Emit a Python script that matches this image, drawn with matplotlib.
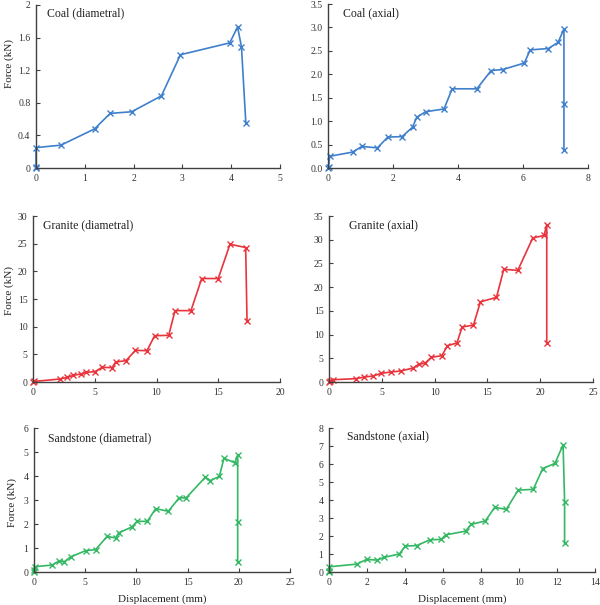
import matplotlib
matplotlib.use("Agg")
import matplotlib.pyplot as plt

plt.rcParams['font.family'] = ['Liberation Serif', 'DejaVu Serif']

# Coal (diametral)
coal_d_x = [0, 0, 0, 0.51, 1.20, 1.52, 1.96, 2.57, 2.96, 3.97, 4.13, 4.21, 4.30]
coal_d_y = [0, 0.01, 0.25, 0.28, 0.48, 0.67, 0.69, 0.885, 1.39, 1.535, 1.73, 1.49, 0.55]

# Coal (axial)
coal_a_x = [0, 0.02, 0.05, 0.76, 1.04, 1.52, 1.84, 2.28, 2.60, 2.73, 3.00, 3.57, 3.82,
            4.58, 5.02, 5.37, 6.04, 6.22, 6.78, 7.08, 7.26, 7.26, 7.26]
coal_a_y = [0, 0.02, 0.25, 0.34, 0.46, 0.43, 0.66, 0.67, 0.87, 1.08, 1.20, 1.26, 1.69,
            1.69, 2.08, 2.10, 2.24, 2.52, 2.55, 2.68, 2.97, 1.37, 0.39]

# Granite (diametral)
gran_d_x = [0, 0.05, 2.19, 2.78, 3.27, 3.86, 4.29, 5.02, 5.59, 6.40, 6.69, 7.53, 8.29,
            9.23, 9.85, 10.99, 11.50, 12.79, 13.66, 15.00, 15.95, 17.22, 17.33]
gran_d_y = [0, 0.1, 0.54, 0.84, 1.2, 1.45, 1.75, 1.87, 2.65, 2.59, 3.61, 3.86, 5.72,
            5.66, 8.37, 8.43, 12.9, 12.9, 18.7, 18.7, 24.9, 24.3, 11.0]

# Granite (axial)
gran_a_x = [0, 0.1, 0.41, 2.52, 3.34, 4.16, 4.95, 5.86, 6.78, 7.98, 8.48, 9.11, 9.68,
            10.69, 11.22, 12.11, 12.61, 13.68, 14.34, 15.86, 16.55, 17.88, 19.29,
            20.37, 20.62, 20.62]
gran_a_y = [0, 0.3, 0.49, 0.70, 1.05, 1.26, 1.83, 2.11, 2.32, 2.95, 3.72, 4.0, 5.2,
            5.55, 7.66, 8.22, 11.6, 12.0, 16.9, 17.85, 23.75, 23.54, 30.36,
            30.9, 33.2, 8.3]

# Sandstone (diametral)
sand_d_x = [0, 0, 0.05, 1.79, 2.44, 2.93, 3.58, 5.05, 6.02, 7.13, 7.98, 8.27, 9.57,
            10.06, 11.07, 11.88, 13.12, 14.19, 14.84, 16.73, 17.22, 18.10, 18.55,
            19.60, 19.89, 19.89, 19.89]
sand_d_y = [0, 0.1, 0.22, 0.29, 0.46, 0.42, 0.63, 0.89, 0.93, 1.48, 1.42, 1.63, 1.88,
            2.11, 2.11, 2.64, 2.53, 3.10, 3.08, 3.95, 3.81, 3.98, 4.74,
            4.55, 4.87, 2.09, 0.42]

# Sandstone (axial)
sand_a_x = [0, 0, 0.02, 1.47, 1.98, 2.54, 2.88, 3.70, 4.02, 4.63, 5.30, 5.91, 6.14,
            7.19, 7.47, 8.23, 8.72, 9.33, 9.96, 10.75, 11.25, 11.89, 12.32, 12.40, 12.40]
sand_a_y = [0, 0.05, 0.29, 0.44, 0.70, 0.66, 0.81, 1.0, 1.44, 1.47, 1.79, 1.81, 2.06,
            2.27, 2.64, 2.84, 3.59, 3.48, 4.55, 4.59, 5.75, 6.03, 7.06, 3.91, 1.59]

titles = ["Coal (diametral)", "Coal (axial)", "Granite (diametral)", "Granite (axial)",
          "Sandstone (diametral)", "Sandstone (axial)"]
xticks = [[0, 1, 2, 3, 4, 5], [0, 2, 4, 6, 8], [0, 5, 10, 15, 20], [0, 5, 10, 15, 20, 25],
          [0, 5, 10, 15, 20, 25], [0, 2, 4, 6, 8, 10, 12, 14]]
yticks = [[0, 0.4, 0.8, 1.2, 1.6, 2], [0, 0.5, 1, 1.5, 2, 2.5, 3, 3.5],
          [0, 5, 10, 15, 20, 25, 30], [0, 5, 10, 15, 20, 25, 30, 35],
          [0, 1, 2, 3, 4, 5, 6], [0, 1, 2, 3, 4, 5, 6, 7, 8]]
ytick_labels = [["0", "0.4", "0.8", "1.2", "1.6", "2"], None, None, None, None, None]

data = [(coal_d_x, coal_d_y), (coal_a_x, coal_a_y), (gran_d_x, gran_d_y),
        (gran_a_x, gran_a_y), (sand_d_x, sand_d_y), (sand_a_x, sand_a_y)]

colors = ["#3f7fcb", "#3f7fcb", "#e8343c", "#e8343c", "#34b864", "#34b864"]

W, H = 600, 605
# axes boxes in pixels: left, right, top, bottom
boxes = [(36, 280, 5, 168), (328, 588, 4, 168),
         (33, 280, 216, 382), (329, 593, 216, 382),
         (34, 290, 428, 572), (329, 595, 428, 572)]
title_pos = [(0.045, 0.95), (0.058, 0.945), (0.04, 0.946), (0.076, 0.946),
             (0.055, 0.93), (0.068, 0.944)]
ylabel_pos = [(14, 0.644), None, (14, 0.554), None, (17, 0.486), None]

fig = plt.figure(figsize=(6.0, 6.05), dpi=100)
for i in range(6):
    l, r, t, b = boxes[i]
    ax = fig.add_axes([l / W, 1 - b / H, (r - l) / W, (b - t) / H])
    x, y = data[i]
    ax.plot(x, y, color=colors[i], lw=1.2, marker='x', ms=4.5, mew=1.0)
    ax.set_xlim(xticks[i][0], xticks[i][-1])
    ax.set_ylim(yticks[i][0], yticks[i][-1])
    ax.set_xticks(xticks[i])
    ax.set_yticks(yticks[i])
    if ytick_labels[i] is not None:
        ax.set_yticklabels(ytick_labels[i])
    ax.spines['top'].set_visible(False)
    ax.spines['right'].set_visible(False)
    for s in ('left', 'bottom'):
        ax.spines[s].set_color('#404040')
        ax.spines[s].set_linewidth(1.0)
    ax.tick_params(direction='in', length=3, width=0.8, labelsize=7,
                   colors='#404040', labelcolor='#333333', pad=4)
    ax.text(title_pos[i][0], title_pos[i][1], titles[i], transform=ax.transAxes,
            fontsize=8.5, va='center', ha='left', color='#222222')
    ax.patch.set_alpha(0)
    for ln in ax.lines:
        ln.set_clip_on(False)
    if ylabel_pos[i] is not None:
        ax.set_ylabel("Force (kN)", fontsize=8, color='#222222')
        ax.yaxis.set_label_coords((ylabel_pos[i][0] - l) / (r - l), ylabel_pos[i][1])
    if i >= 4:
        ax.set_xlabel("Displacement (mm)", fontsize=8, color='#222222', labelpad=6)

fig.savefig("out.png", dpi=100)
